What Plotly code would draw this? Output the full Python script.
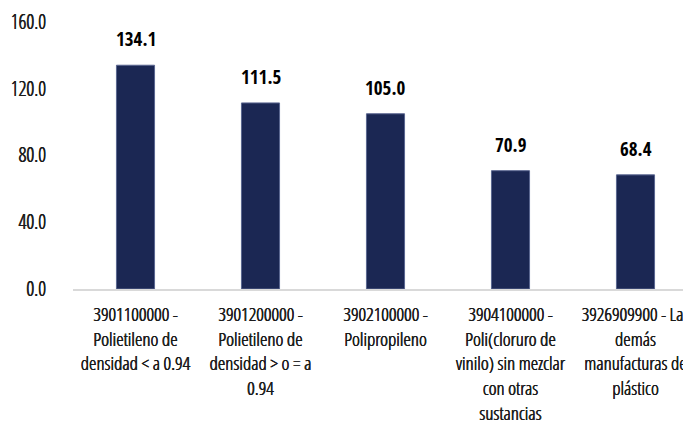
import plotly.graph_objects as go

categories = [
    "3901100000 - Polietileno de densidad < a 0.94",
    "3901200000 - Polietileno de densidad > o = a 0.94",
    "3902100000 - Polipropileno",
    "3904100000 - Poli(cloruro de vinilo) sin mezclar con otras sustancias",
    "3926909900 - Las demás manufacturas de plástico",
]
tick_labels = [
    "3901100000 -<br>Polietileno de<br>densidad &lt; a 0.94",
    "3901200000 -<br>Polietileno de<br>densidad &gt; o = a<br>0.94",
    "3902100000 -<br>Polipropileno",
    "3904100000 -<br>Poli(cloruro de<br>vinilo) sin mezclar<br>con otras<br>sustancias",
    "3926909900 - Las<br>demás<br>manufacturas de<br>plástico",
]
values = [134.1, 111.5, 105.0, 70.9, 68.4]
y_ticks = [0, 40, 80, 120, 160]

FONT = "Open Sans Condensed Light, Roboto Condensed, sans-serif"
FONT_B = "Open Sans Condensed, Roboto Condensed, sans-serif"
BAR = "#1B2753"
THICK = "0.3px 0 0 #1a1a1a, -0.3px 0 0 #1a1a1a"

fig = go.Figure()
fig.add_trace(go.Bar(
    x=categories, y=values,
    marker=dict(color=BAR, line=dict(color="#5a6690", width=1)),
    width=0.305,
    hoverinfo="skip",
))

for c, v in zip(categories, values):
    fig.add_annotation(
        x=c, y=v, text=f"{v:.1f}", showarrow=False,
        yanchor="bottom", yshift=11,
        font=dict(family=FONT_B, size=19, color="#000000", weight=700),
    )

# the page body adds an 8px margin, so the figure is 8px smaller on each axis
fig.update_layout(
    width=683, height=419,
    margin=dict(l=65, r=0, t=14, b=138),
    paper_bgcolor="white", plot_bgcolor="white",
    showlegend=False,
    font=dict(family=FONT, size=19, color="#1a1a1a"),
    xaxis=dict(
        tickmode="array", tickvals=categories, ticktext=tick_labels,
        range=[-0.5, 4.444], automargin=False,
        showline=True, linecolor="#D9D9D9", linewidth=2,
        showgrid=False, ticks="", ticklabelstandoff=7,
        ticklabeloverflow="allow",
        tickfont=dict(family=FONT, size=19, color="#1a1a1a", shadow=THICK),
        tickangle=0,
    ),
    yaxis=dict(
        range=[0, 160], tickvals=y_ticks, tickformat=".1f", automargin=False,
        showgrid=False, zeroline=False, showline=False,
        ticks="", ticklabelstandoff=26, ticklabeloverflow="allow",
        tickfont=dict(family=FONT, size=19.5, color="#1a1a1a", shadow=THICK),
    ),
)

fig.write_html("out.html")
